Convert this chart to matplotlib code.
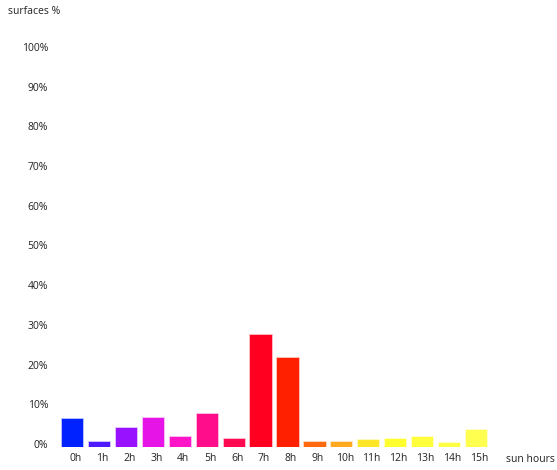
import matplotlib
matplotlib.use("Agg")
import matplotlib.pyplot as plt
from matplotlib.colors import to_rgba
from matplotlib.transforms import ScaledTranslation

hours = ["0h", "1h", "2h", "3h", "4h", "5h", "6h", "7h",
         "8h", "9h", "10h", "11h", "12h", "13h", "14h", "15h"]
surfaces = [7.0, 1.3, 4.7, 7.2, 2.4, 8.3, 2.1, 28.2,
            22.3, 1.3, 1.3, 1.8, 2.1, 2.4, 0.9, 4.3]
colors = ["#0022ff", "#4d1aff", "#9912ff", "#e614e6", "#ff14c8", "#ff0d8a",
          "#ff0a50", "#ff0020", "#ff2000", "#ff6a10", "#ffa820", "#ffe628",
          "#ffff30", "#ffff3c", "#ffff44", "#ffff50"]
yticks = [0, 10, 20, 30, 40, 50, 60, 70, 80, 90, 100]

plt.rcParams['font.family'] = ['Open Sans', 'DejaVu Sans']

W, H = 557, 470
fig = plt.figure(figsize=(W / 100, H / 100), dpi=100)
base = 447
top = 50
left_px = 55
ax = fig.add_axes([left_px / W, (H - base) / H, 1 - left_px / W, (base - top) / H])

x = list(range(len(hours)))
edges = [to_rgba(c, 0.35) for c in colors]
ax.bar(x, surfaces, width=0.79, color=colors, edgecolor=edges, linewidth=1.2)

ax.set_ylim(0, 100)
ax.set_xlim((left_px - 72.8) / 26.9, (W - 72.8) / 26.9)
ax.set_yticks(yticks)
ax.set_yticklabels([f"{v}%" for v in yticks], fontsize=7.5, color="#222222")
ax.set_xticks(x)
ax.set_xticklabels(hours, fontsize=7.5, color="#222222")
ax.tick_params(axis="y", length=0, pad=5)
ax.tick_params(axis="x", length=0, pad=4.5)
for s in ax.spines.values():
    s.set_visible(False)

# small offsets of the labels as in the original
up = ScaledTranslation(0, 3 / 100, fig.dpi_scale_trans)
right = ScaledTranslation(3 / 100, 0, fig.dpi_scale_trans)
for lab in ax.get_yticklabels():
    lab.set_transform(lab.get_transform() + up)
for lab in ax.get_xticklabels():
    lab.set_transform(lab.get_transform() + right)

ax.text(17, -1.2, "sun hours", ha="center", va="top", fontsize=7.5,
        color="#222222", clip_on=False,
        transform=ax.transData + ScaledTranslation(0, -2 / 100, fig.dpi_scale_trans))
fig.text(8 / W, 1 - 12 / H, "surfaces %", ha="left", va="center",
         fontsize=7.5, color="#222222")

fig.savefig("out.png", dpi=100)
